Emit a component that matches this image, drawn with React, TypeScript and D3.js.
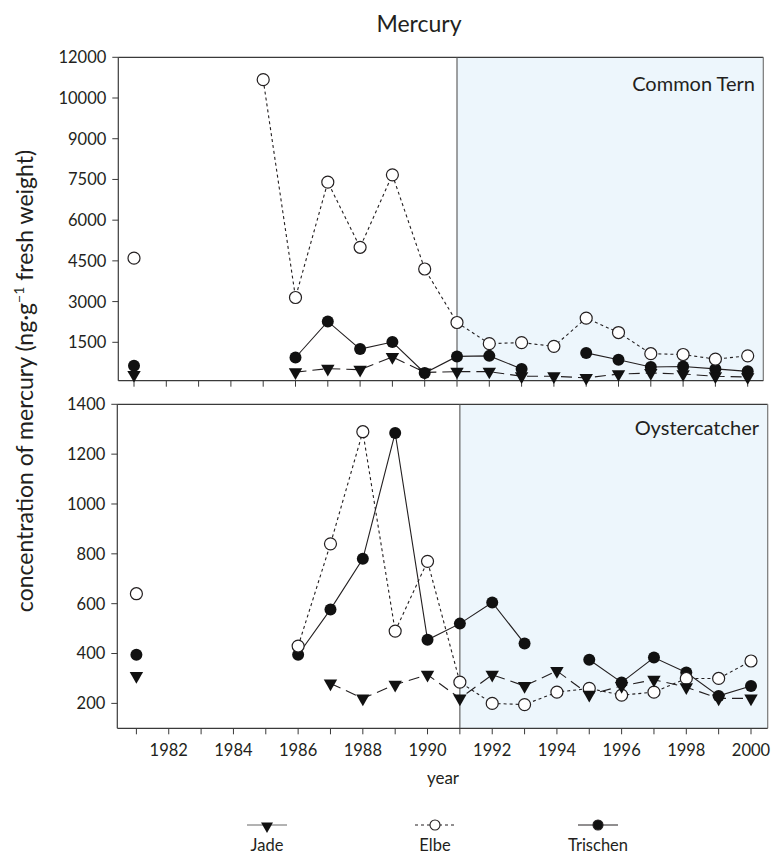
import { useEffect, useRef } from 'react';
import * as d3 from 'd3';

// years sampled (x categories)
const years = [1981, 1982, 1983, 1984, 1985, 1986, 1987, 1988, 1989, 1990,
  1991, 1992, 1993, 1994, 1995, 1996, 1997, 1998, 1999, 2000];

// Common Tern, ng/g fresh weight (null = no sample)
const jadeTern = [300, null, null, null, null, 400, 530, 490, 960, 390,
  420, 420, 250, 250, 190, 330, 370, 330, 250, 220];
const elbeTern = [4600, null, null, null, 10900, 3150, 7400, 5000, 7670, 4200,
  2230, 1450, 1490, 1350, 2390, 1860, 1080, 1050, 880, 1000];
const trischenTern = [640, null, null, null, null, 940, 2270, 1250, 1510, 370,
  980, 1000, 520, null, 1110, 860, 590, 610, 520, 430];

// Oystercatcher
const jadeOyster = [310, null, null, null, null, null, 280, 220, 275, 315,
  220, 315, 270, 330, 235, 270, 295, 265, 220, 220];
const elbeOyster = [640, null, null, null, null, 430, 840, 1290, 490, 770,
  285, 200, 195, 245, 260, 233, 245, 300, 300, 370];
const trischenOyster = [395, null, null, null, null, 395, 577, 780, 1285, 455,
  520, 605, 440, null, 375, 284, 384, 324, 230, 270];

const ternTicks = [1500, 3000, 4500, 6000, 7500, 9000, 10000, 12000];
const oysterTicks = [200, 400, 600, 800, 1000, 1200, 1400];
const yearLabels = [1982, 1984, 1986, 1988, 1990, 1992, 1994, 1996, 1998, 2000];
const shadeFrom = 1991;

const FONT = 'Lato, "Open Sans", sans-serif';
const INK = '#231f20';

type Pt = { year: number; v: number | null };
const toPts = (vals: (number | null)[]): Pt[] => vals.map((v, i) => ({ year: years[i], v }));

export default function App() {
  const svgRef = useRef<SVGSVGElement>(null);

  useEffect(() => {
    if (!svgRef.current) return;
    const svg = d3.select(svgRef.current);
    svg.selectAll('*').remove();

    svg.append('text')
      .attr('x', 419).attr('y', 31.5)
      .attr('text-anchor', 'middle')
      .attr('font-family', FONT).attr('font-size', 23)
      .attr('fill', INK)
      .text('Mercury');

    // top panel uses a broken (piecewise) scale, equal spacing between ticks
    const tStep = (342.3 - 57.3) / 7;
    const yTern = d3.scaleLinear<number>()
      .domain([0, ...ternTicks])
      .range([342.3 + tStep, ...ternTicks.map((_, i) => 342.3 - i * tStep)]);

    const yOyster = d3.scaleLinear().domain([100, 1400]).range([728.3, 404.3]);

    const panels = [
      {
        name: 'Common Tern', left: 118.3, right: 763.3, top: 57.3, bottom: 380.7,
        x: d3.scaleLinear().domain([1981, 2000]).range([134, 747.7]),
        y: yTern, ticks: ternTicks, labelY: 90.5, labelX: 755,
        jade: jadeTern, elbe: elbeTern, trischen: trischenTern, xLabels: false,
      },
      {
        name: 'Oystercatcher', left: 117.3, right: 767.7, top: 404.3, bottom: 728.3,
        x: d3.scaleLinear().domain([1981, 2000]).range([136.4, 751]),
        y: yOyster, ticks: oysterTicks, labelY: 435, labelX: 759,
        jade: jadeOyster, elbe: elbeOyster, trischen: trischenOyster, xLabels: true,
      },
    ];

    const triangle = d3.symbol(d3.symbolTriangle, 78);

    panels.forEach(p => {
      const g = svg.append('g');
      const xs = p.x(shadeFrom);

      // shaded period
      g.append('rect')
        .attr('x', xs).attr('y', p.top)
        .attr('width', p.right - xs).attr('height', p.bottom - p.top)
        .attr('fill', '#edf6fc');

      // frame
      g.append('line').attr('x1', p.left).attr('x2', p.right).attr('y1', p.top).attr('y2', p.top)
        .attr('stroke', '#3a3a3a').attr('stroke-width', 1.2);
      g.append('line').attr('x1', p.right).attr('x2', p.right).attr('y1', p.top).attr('y2', p.bottom)
        .attr('stroke', '#777').attr('stroke-width', 1.2);
      g.append('line').attr('x1', p.left).attr('x2', p.left).attr('y1', p.top).attr('y2', p.bottom)
        .attr('stroke', '#3a3a3a').attr('stroke-width', 1.2);
      g.append('line').attr('x1', p.left).attr('x2', p.right).attr('y1', p.bottom).attr('y2', p.bottom)
        .attr('stroke', '#3a3a3a').attr('stroke-width', 1.2);
      g.append('line').attr('x1', xs).attr('x2', xs).attr('y1', p.top).attr('y2', p.bottom)
        .attr('stroke', '#555').attr('stroke-width', 1.1);

      // y ticks
      p.ticks.forEach(t => {
        const yy = p.y(t);
        g.append('line').attr('x1', p.left - 6).attr('x2', p.left).attr('y1', yy).attr('y2', yy)
          .attr('stroke', '#3a3a3a').attr('stroke-width', 1);
        g.append('text')
          .attr('x', p.left - 12).attr('y', yy).attr('dy', '0.36em')
          .attr('text-anchor', 'end')
          .attr('font-family', FONT).attr('font-size', 16.5).attr('fill', INK)
          .text(String(t));
      });

      // x ticks
      years.forEach(yr => {
        const xx = p.x(yr);
        g.append('line').attr('x1', xx).attr('x2', xx).attr('y1', p.bottom).attr('y2', p.bottom + 6)
          .attr('stroke', '#3a3a3a').attr('stroke-width', 1);
      });
      if (p.xLabels) {
        yearLabels.forEach(yr => {
          g.append('text')
            .attr('x', p.x(yr)).attr('y', 756)
            .attr('text-anchor', 'middle')
            .attr('font-family', FONT).attr('font-size', 16.5).attr('fill', INK)
            .text(String(yr));
        });
      }

      g.append('text')
        .attr('x', p.labelX).attr('y', p.labelY)
        .attr('text-anchor', 'end')
        .attr('font-family', FONT).attr('font-size', 20).attr('fill', INK)
        .text(p.name);

      const line = d3.line<Pt>()
        .defined(d => d.v != null)
        .x(d => p.x(d.year))
        .y(d => p.y(d.v as number));

      const jade = toPts(p.jade);
      const elbe = toPts(p.elbe);
      const tris = toPts(p.trischen);

      g.append('path').datum(jade).attr('d', line).attr('fill', 'none')
        .attr('stroke', INK).attr('stroke-width', 1.1).attr('stroke-dasharray', '11,6');
      g.append('path').datum(elbe).attr('d', line).attr('fill', 'none')
        .attr('stroke', INK).attr('stroke-width', 1.1).attr('stroke-dasharray', '3,3');
      g.append('path').datum(tris).attr('d', line).attr('fill', 'none')
        .attr('stroke', INK).attr('stroke-width', 1.1);

      g.selectAll('.tris').data(tris.filter(d => d.v != null)).enter()
        .append('circle')
        .attr('cx', d => p.x(d.year)).attr('cy', d => p.y(d.v as number))
        .attr('r', 6).attr('fill', '#111');
      g.selectAll('.elbe').data(elbe.filter(d => d.v != null)).enter()
        .append('circle')
        .attr('cx', d => p.x(d.year)).attr('cy', d => p.y(d.v as number))
        .attr('r', 6).attr('fill', '#fff').attr('stroke', INK).attr('stroke-width', 1.2);
      g.selectAll('.jade').data(jade.filter(d => d.v != null)).enter()
        .append('path')
        .attr('d', triangle() as string)
        .attr('transform', d => `translate(${p.x(d.year)},${p.y(d.v as number)}) rotate(180)`)
        .attr('fill', '#111');
    });

    // x axis title
    svg.append('text')
      .attr('x', 443).attr('y', 784)
      .attr('text-anchor', 'middle')
      .attr('font-family', FONT).attr('font-size', 17).attr('fill', INK)
      .text('year');

    // y axis title
    const yl = svg.append('text')
      .attr('transform', 'translate(33,381) rotate(-90)')
      .attr('text-anchor', 'middle')
      .attr('font-family', FONT).attr('font-size', 23).attr('fill', INK);
    yl.append('tspan').text('concentration of mercury (ng·g');
    yl.append('tspan').attr('dy', -9).attr('font-size', 14).text('−1');
    yl.append('tspan').attr('dy', 9).text(' fresh weight)');

    // legend
    const legend = [
      { label: 'Jade', cx: 267, dash: null as string | null, marker: 'tri' },
      { label: 'Elbe', cx: 435, dash: '3,3', marker: 'open' },
      { label: 'Trischen', cx: 598, dash: null, marker: 'fill' },
    ];
    legend.forEach(l => {
      const lg = svg.append('g');
      lg.append('line').attr('x1', l.cx - 20).attr('x2', l.cx + 20).attr('y1', 825).attr('y2', 825)
        .attr('stroke', l.marker === 'tri' ? '#666' : INK).attr('stroke-width', 1)
        .attr('stroke-dasharray', l.dash);
      if (l.marker === 'tri') {
        lg.append('path').attr('d', d3.symbol(d3.symbolTriangle, 62)() as string)
          .attr('transform', `translate(${l.cx},826) rotate(180)`).attr('fill', '#111');
      } else {
        lg.append('circle').attr('cx', l.cx).attr('cy', 825).attr('r', 5)
          .attr('fill', l.marker === 'fill' ? '#111' : '#fff')
          .attr('stroke', INK).attr('stroke-width', 1.1);
      }
      lg.append('text')
        .attr('x', l.cx).attr('y', 851)
        .attr('text-anchor', 'middle')
        .attr('font-family', FONT).attr('font-size', 16.5).attr('fill', INK)
        .text(l.label);
    });
  }, []);

  return (
    <svg
      ref={svgRef}
      width={774}
      height={854}
      style={{ position: 'absolute', left: 0, top: 0, display: 'block', background: '#fff' }}
    />
  );
}
